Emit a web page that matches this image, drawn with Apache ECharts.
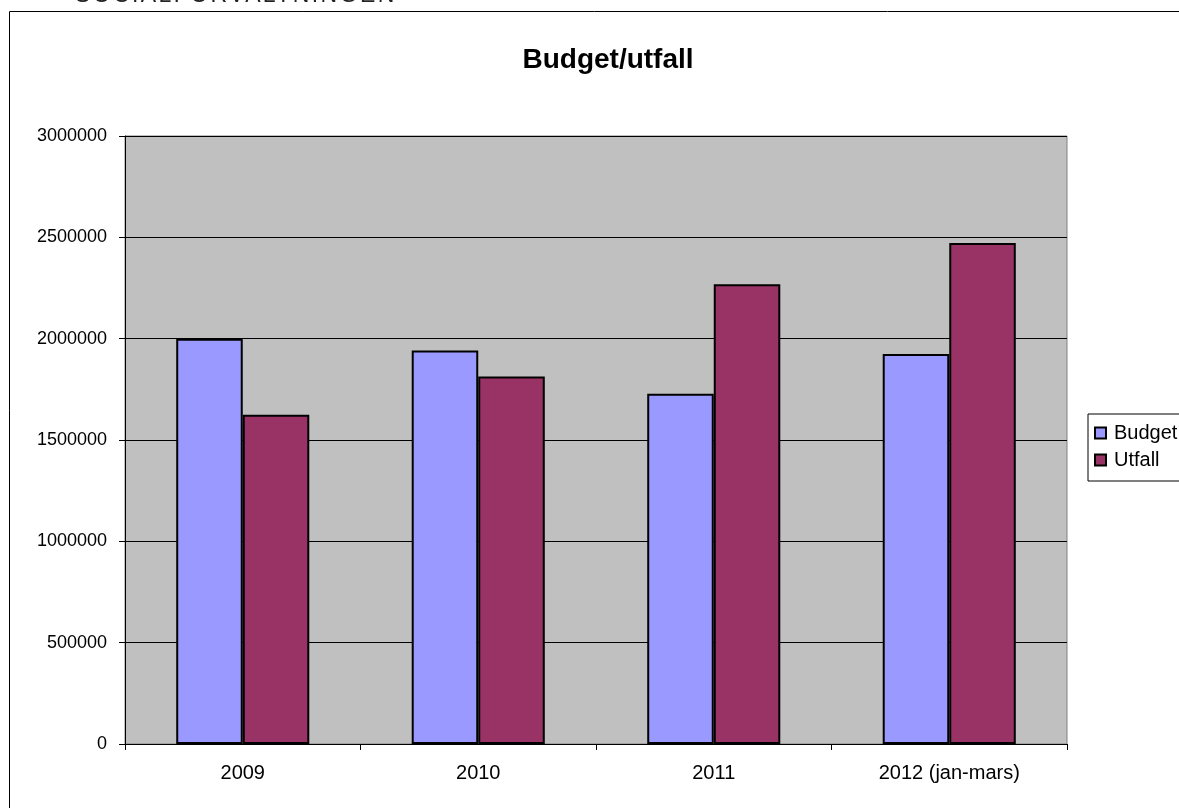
<!DOCTYPE html>
<html>
<head>
<meta charset="utf-8">
<script src="https://cdn.jsdelivr.net/npm/echarts@6/dist/echarts.min.js"></script>
<style>
html,body{margin:0;padding:0;background:#fff;overflow:hidden;}
#hdr{position:absolute;left:75px;top:-17px;font-family:"Liberation Sans",Arial,sans-serif;font-size:23px;line-height:23px;letter-spacing:2.4px;color:#222;white-space:nowrap;z-index:2;}
#chart{position:absolute;left:0;top:0;width:1179px;height:808px;}
</style>
</head>
<body>
<div id="hdr">SOCIALFÖRVALTNINGEN</div>
<div id="chart"></div>
<script>
const categories = ['2009', '2010', '2011', '2012 (jan-mars)'];
const budget = [2000000, 1942000, 1728000, 1924000];
const utfall = [1625000, 1813000, 2268000, 2472000];
const yTicks = [0, 500000, 1000000, 1500000, 2000000, 2500000, 3000000];

const chart = echarts.init(document.getElementById('chart'), null, {renderer: 'canvas'});
const font = '"Liberation Sans", Arial, sans-serif';
chart.setOption({
  animation: false,
  backgroundColor: 'transparent',
  textStyle: {fontFamily: font},
  title: {
    text: 'Budget/utfall',
    left: 603, top: 41, textAlign: 'center',
    textStyle: {fontSize: 28, fontWeight: 'bold', color: '#000', fontFamily: font}
  },
  graphic: [{
    type: 'rect', silent: true, z: -1,
    shape: {x: 9.5, y: 11.5, width: 1300, height: 1000},
    style: {fill: 'none', stroke: '#000', lineWidth: 1}
  }],
  legend: {
    orient: 'vertical',
    left: 1088, top: 414,
    padding: [9, 10, 11, 6],
    borderColor: '#000', borderWidth: 1,
    backgroundColor: '#fff',
    itemWidth: 11, itemHeight: 11, itemGap: 7,
    icon: 'rect',
    textStyle: {fontSize: 20, color: '#000', fontFamily: font, padding: [0, 0, 0, 3]},
    data: ['Budget', 'Utfall']
  },
  grid: {left: 125, right: 112, top: 136, bottom: 64, show: true,
         backgroundColor: '#C0C0C0', borderColor: '#808080', borderWidth: 1},
  xAxis: {
    type: 'category', data: categories,
    axisLine: {show: true, lineStyle: {color: '#000', width: 1}},
    axisTick: {show: true, length: 6, alignWithLabel: false, lineStyle: {color: '#000'}},
    axisLabel: {fontSize: 20, color: '#000', margin: 19, fontFamily: font},
    splitLine: {show: false}
  },
  yAxis: {
    type: 'value', min: 0, max: 3000000, interval: 500000,
    axisLine: {show: true, lineStyle: {color: '#000', width: 1}},
    axisTick: {show: true, length: 6, lineStyle: {color: '#000'}},
    axisLabel: {fontSize: 18, color: '#000', margin: 18, fontFamily: font,
      formatter: v => yTicks.includes(v) ? String(v) : ''},
    splitLine: {show: true, lineStyle: {color: '#000', width: 1}}
  },
  series: [
    {name: 'Budget', type: 'bar', data: budget, barGap: '0%', barCategoryGap: '43.5%',
     itemStyle: {color: '#9999FF', borderColor: '#000', borderWidth: 2}},
    {name: 'Utfall', type: 'bar', data: utfall, barGap: '0%', barCategoryGap: '43.5%',
     itemStyle: {color: '#993366', borderColor: '#000', borderWidth: 2}}
  ]
});
</script>
</body>
</html>
